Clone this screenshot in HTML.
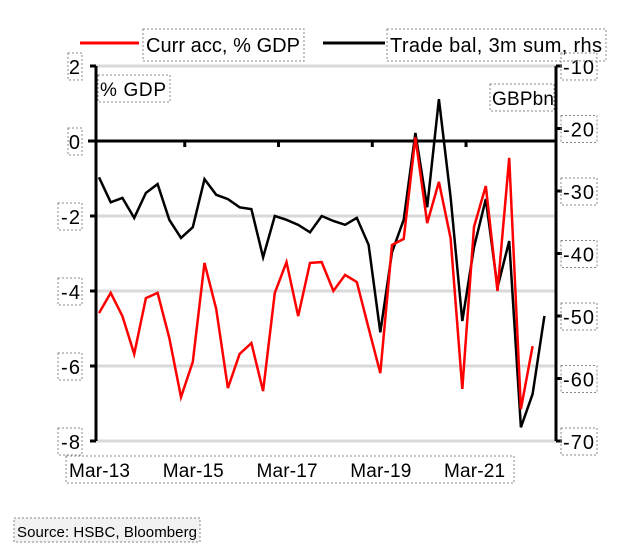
<!DOCTYPE html>
<html><head><meta charset="utf-8">
<style>
body{margin:0;background:#fff;width:642px;height:551px;overflow:hidden;font-family:"Liberation Sans",Arial,sans-serif;}
svg{display:block}
text{font-family:"Liberation Sans",Arial,sans-serif;fill:#000}
</style></head>
<body>
<svg id="chart" width="642" height="551"></svg>
<script>
const xLabels=["Mar-13","Mar-15","Mar-17","Mar-19","Mar-21"];
const xLabelIdx=[0,8,16,24,32];
const leftTicks=[2,0,-2,-4,-6,-8];
const rightTicks=[-10,-20,-30,-40,-50,-60,-70];
const currAcc=[-4.59,-4.05,-4.67,-5.68,-4.19,-4.05,-5.25,-6.83,-5.89,-3.25,-4.48,-6.59,-5.68,-5.39,-6.67,-4.05,-3.23,-4.67,-3.25,-3.23,-4.0,-3.57,-3.76,-4.99,-6.19,-2.77,-2.61,0.1,-2.19,-1.09,-2.59,-6.61,-2.29,-1.2,-4.0,-0.45,-7.15,-5.47];
const tradeBal=[-27.8,-31.8,-31.1,-34.3,-30.3,-28.9,-34.6,-37.5,-35.8,-28.1,-30.6,-31.3,-32.6,-32.9,-40.6,-34.0,-34.6,-35.4,-36.6,-34.0,-34.8,-35.4,-34.3,-38.6,-52.6,-39.8,-34.6,-20.7,-32.6,-15.3,-31.0,-50.8,-39.0,-31.3,-45.4,-38.0,-67.8,-62.5,-50.0];

const svg=document.getElementById('chart');
const NS='http://www.w3.org/2000/svg';
const L=96,R=556,T=66,B=441;
const xS=i=>99+i*11.72;
const yL=v=>T+(2-v)*(B-T)/10;
const yR=v=>T+(-10-v)*(B-T)/60;
function mk(tag,attrs,parent){const e=document.createElementNS(NS,tag);for(const k in attrs)e.setAttribute(k,attrs[k]);(parent||svg).appendChild(e);return e;}
function box(x,y,w,h){const r=mk('rect',{x:x,y:y,width:w,height:h,fill:'none',stroke:'#888','stroke-width':1,'stroke-dasharray':'2,2'});return r;}

[2,-2,-4,-6,-8].forEach(v=>{const g=mk('line',{x1:L,x2:R,y1:yL(v),y2:yL(v),stroke:'#d9d9d9','stroke-width':3});

});
const z=mk('line',{x1:88,x2:R,y1:yL(0),y2:yL(0),stroke:'#000','stroke-width':3});


const la=mk('line',{x1:L,x2:L,y1:T,y2:B,stroke:'#000','stroke-width':3});


const ra=mk('line',{x1:R,x2:R,y1:T,y2:B,stroke:'#000','stroke-width':3});


leftTicks.forEach(v=>{
 const tk=mk('line',{x1:L-6,x2:L,y1:yL(v),y2:yL(v),stroke:'#000','stroke-width':3});
 
 
 const s=String(v);const w=s.length*10+4;
 box(82-w,yL(v)-13,w,27);
 const t=mk('text',{x:80,y:yL(v)+8,'font-size':20,'text-anchor':'end'});t.textContent=s;
 if(s.length>1)t.setAttribute('textLength',s.length*9.5);
 
 
});
rightTicks.forEach(v=>{
 const tk=mk('line',{x1:R,x2:R+6,y1:yR(v),y2:yR(v),stroke:'#000','stroke-width':3});
 
 
 box(R+5,yR(v)-13,36,27);
 const t=mk('text',{x:R+7,y:yR(v)+8,'font-size':20,textLength:31});t.textContent=String(v);
 
 
});
box(66,456,448,27);
xLabelIdx.forEach((ix,k)=>{
 if(k>0){const tk=mk('line',{x1:xS(ix)-8,x2:xS(ix)-8,y1:yL(0),y2:yL(0)+6,stroke:'#000','stroke-width':3});
 
 }
 const t=mk('text',{x:xS(ix)-30,y:477,'font-size':19,textLength:61});t.textContent=xLabels[k];
 
 
});
function line(data,yf,color,name){
 const pts=data.map((v,i)=>xS(i).toFixed(1)+','+yf(v).toFixed(1)).join(' ');
 const p=mk('polyline',{points:pts,fill:'none',stroke:color,'stroke-width':2.5,'stroke-linejoin':'miter'});
 
 
}
line(tradeBal,yR,'#000','trade-balance-line');
line(currAcc,yL,'#ff0000','current-account-line');
box(98,75,72,27);
const a1=mk('text',{x:100,y:96,'font-size':19,textLength:66});a1.textContent='% GDP';


box(490,84,64,27);
const a2=mk('text',{x:492,y:105,'font-size':19,textLength:62});a2.textContent='GBPbn';


const l1=mk('line',{x1:80,x2:139,y1:43,y2:43,stroke:'#ff0000','stroke-width':3});


box(143,29,161,32);
const lt1=mk('text',{x:146,y:52,'font-size':20,textLength:154});lt1.textContent='Curr acc, % GDP';


const l2=mk('line',{x1:323,x2:385,y1:43,y2:43,stroke:'#000','stroke-width':3});


box(387,29,219,32);
const lt2=mk('text',{x:390,y:52,'font-size':20,textLength:212});lt2.textContent='Trade bal,  3m sum, rhs';
lt2.setAttribute('xml:space','preserve');


const sb=mk('rect',{x:14,y:518,width:186,height:24,fill:'#f2f2f2',stroke:'#888','stroke-dasharray':'2,2'});


const st=mk('text',{x:17,y:537,'font-size':15,textLength:180});st.textContent='Source: HSBC, Bloomberg';


</script>
</body></html>
